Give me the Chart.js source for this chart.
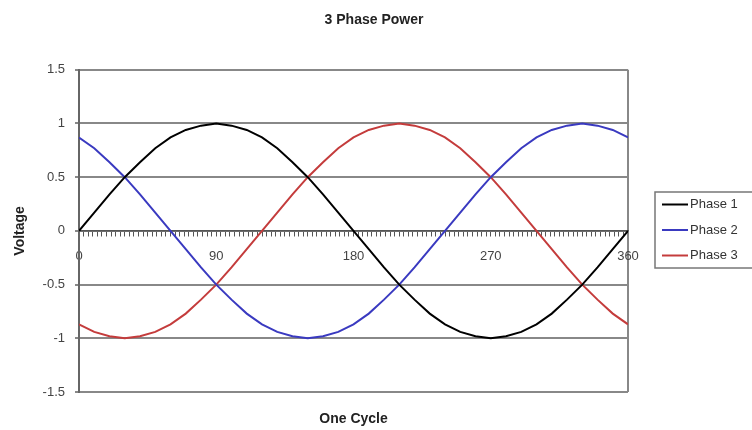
<!DOCTYPE html>
<html>
<head>
<meta charset="utf-8">
<script src="https://cdn.jsdelivr.net/npm/chart.js@4.4.0/dist/chart.umd.min.js"></script>
<style>
  html, body { margin: 0; padding: 0; background: #ffffff; }
  #wrap { width: 752px; height: 430px; }
</style>
</head>
<body>
<div id="wrap"><canvas id="c" width="752" height="430"></canvas></div>
<script>
const angles = [0,10,20,30,40,50,60,70,80,90,100,110,120,130,140,150,160,170,180,190,200,210,220,230,240,250,260,270,280,290,300,310,320,330,340,350,360];
const phase1 = [0,0.17,0.34,0.5,0.64,0.77,0.87,0.94,0.98,1,0.98,0.94,0.87,0.77,0.64,0.5,0.34,0.17,0,-0.17,-0.34,-0.5,-0.64,-0.77,-0.87,-0.94,-0.98,-1,-0.98,-0.94,-0.87,-0.77,-0.64,-0.5,-0.34,-0.17,0];
const phase2 = [0.87,0.77,0.64,0.5,0.34,0.17,0,-0.17,-0.34,-0.5,-0.64,-0.77,-0.87,-0.94,-0.98,-1,-0.98,-0.94,-0.87,-0.77,-0.64,-0.5,-0.34,-0.17,0,0.17,0.34,0.5,0.64,0.77,0.87,0.94,0.98,1,0.98,0.94,0.87];
const phase3 = [-0.87,-0.94,-0.98,-1,-0.98,-0.94,-0.87,-0.77,-0.64,-0.5,-0.34,-0.17,0,0.17,0.34,0.5,0.64,0.77,0.87,0.94,0.98,1,0.98,0.94,0.87,0.77,0.64,0.5,0.34,0.17,0,-0.17,-0.34,-0.5,-0.64,-0.77,-0.87];
const seriesNames = ['Phase 1','Phase 2','Phase 3'];
const xLabels = [0, 90, 180, 270, 360];
const titleText = '3 Phase Power';
const xTitle = 'One Cycle';
const yTitle = 'Voltage';

const FONT = 'Liberation Sans, Arial, sans-serif';
const colors = ['#000000', '#3a3ac0', '#c43c3c'];
const toPts = arr => arr.map((v, i) => ({x: angles[i], y: v}));

// Excel-style boxed legend to the right of the plot
const boxedLegend = {
  id: 'boxedLegend',
  afterDraw(chart) {
    const ctx = chart.ctx;
    const ds = chart.data.datasets;
    const left = 655, top = 192, bottom = 268, rowH = 25.5;
    ctx.save();
    ctx.strokeStyle = '#777777';
    ctx.lineWidth = 1.5;
    ctx.strokeRect(left, top, 120, bottom - top);
    ctx.font = '13px ' + FONT;
    ctx.textBaseline = 'middle';
    ctx.textAlign = 'left';
    const firstY = (top + bottom) / 2 - rowH * (ds.length - 1) / 2;
    ds.forEach((d, i) => {
      const y = firstY + i * rowH;
      ctx.strokeStyle = d.borderColor;
      ctx.lineWidth = 2;
      ctx.beginPath();
      ctx.moveTo(662, y);
      ctx.lineTo(688, y);
      ctx.stroke();
      ctx.fillStyle = '#333';
      ctx.fillText(d.label, 690, y);
    });
    ctx.restore();
  }
};

new Chart(document.getElementById('c'), {
  type: 'line',
  data: {
    datasets: [phase1, phase2, phase3].map((arr, i) => ({
      label: seriesNames[i],
      data: toPts(arr),
      borderColor: colors[i],
      backgroundColor: colors[i],
      borderWidth: 2,
      pointRadius: 0,
      tension: 0,
      xAxisID: 'x',
      yAxisID: 'y'
    }))
  },
  options: {
    responsive: false,
    animation: false,
    layout: { padding: { left: 0, right: 4, top: 0, bottom: 0 } },
    plugins: {
      title: {
        display: true,
        text: titleText,
        font: { family: FONT, size: 14, weight: 'bold' },
        color: '#222',
        padding: { top: 12, bottom: 41 }
      },
      legend: { display: false },
      tooltip: { enabled: false }
    },
    scales: {
      x: {
        type: 'linear',
        position: { y: 0 },
        min: 0,
        max: 360,
        afterBuildTicks(scale) {
          const t = [];
          for (let a = 0; a <= 360; a += 3) t.push({ value: a });
          scale.ticks = t;
        },
        ticks: {
          autoSkip: false,
          maxRotation: 0,
          padding: 13,
          font: { family: FONT, size: 13 },
          color: '#444',
          callback: v => (xLabels.includes(v) ? String(v) : '')
        },
        grid: { drawOnChartArea: false, drawTicks: true, tickLength: 5, color: '#555', lineWidth: 1 },
        border: { color: '#555', width: 1.5 }
      },
      xb: {
        type: 'linear',
        position: 'bottom',
        min: 0,
        max: 360,
        afterBuildTicks(scale) { scale.ticks = [{ value: 0 }, { value: 360 }]; },
        afterFit(scale) { scale.height = 38; },
        ticks: { display: false },
        grid: { display: true, drawOnChartArea: true, drawTicks: false, color: '#888', lineWidth: 2 },
        border: { display: false },
        title: {
          display: true,
          text: xTitle,
          font: { family: FONT, size: 14, weight: 'bold' },
          color: '#222',
          padding: { top: 4, bottom: 2 }
        }
      },
      y: {
        type: 'linear',
        position: 'left',
        min: -1.5,
        max: 1.5,
        afterFit(scale) { scale.width = 79; },
        ticks: {
          stepSize: 0.5,
          padding: 10,
          font: { family: FONT, size: 13 },
          color: '#444',
          callback: v => String(Math.round(v * 10) / 10)
        },
        grid: { color: '#888', lineWidth: 2, tickLength: 4, drawTicks: true },
        border: { color: '#666', width: 2 },
        title: {
          display: true,
          text: yTitle,
          font: { family: FONT, size: 14, weight: 'bold' },
          color: '#222',
          padding: { top: 12, bottom: 4 }
        }
      },
      yr: {
        type: 'linear',
        position: 'right',
        display: true,
        afterFit(scale) { scale.width = 120; },
        ticks: { display: false },
        grid: { display: false },
        border: { display: false }
      }
    }
  },
  plugins: [boxedLegend]
});
</script>
</body>
</html>
